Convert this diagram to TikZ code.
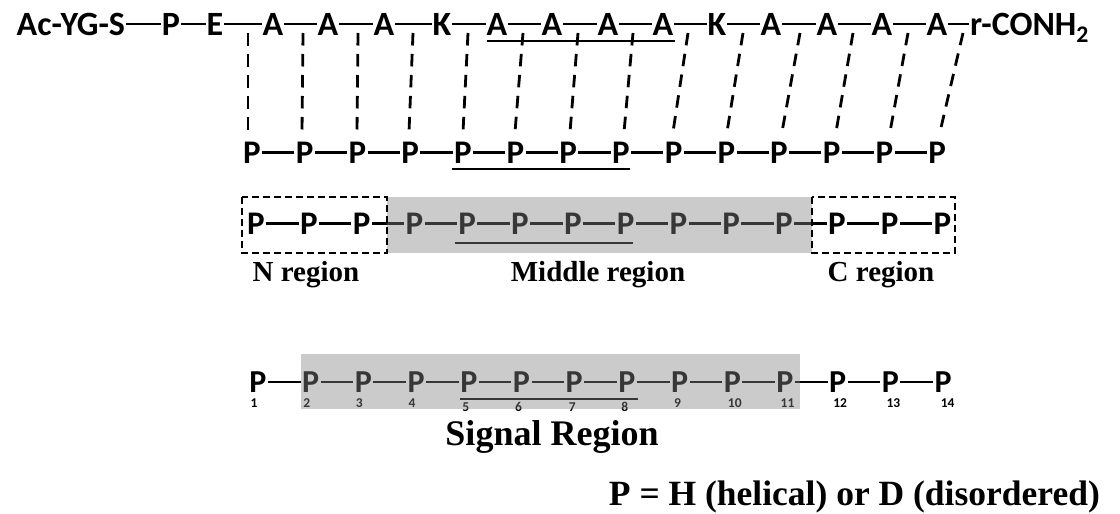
\documentclass[tikz,border=0pt]{standalone}
\usepackage{fontspec}
\setmainfont{Liberation Serif}
\newfontfamily\calfont{Carlito}
\tikzset{
  res/.style={font=\calfont\bfseries\fontsize{34}{34}\selectfont, inner sep=0pt, outer sep=0pt, text height=22pt, text depth=0pt, anchor=south},
  pp/.style={font=\calfont\bfseries\fontsize{33}{33}\selectfont, inner sep=0pt, outer sep=0pt, text height=21pt, text depth=0pt, anchor=south},
  ps/.style={font=\calfont\bfseries\fontsize{32}{32}\selectfont, inner sep=0pt, outer sep=0pt, text height=20pt, text depth=0pt, anchor=south},
  num/.style={font=\calfont\bfseries\fontsize{13.5}{13.5}\selectfont, inner sep=0pt, anchor=base},
  bond/.style={line width=2.7pt, shorten <=1pt, shorten >=1pt},
  pbond/.style={line width=2.7pt, shorten <=1.5pt, shorten >=1.5pt},
  link/.style={line width=2.8pt, dash pattern=on 12.5pt off 8.5pt},
  uline/.style={line width=2.8pt},
  regbox/.style={line width=2pt, dash pattern=on 7pt off 4pt},
  shade/.style={fill={rgb,255:red,132;green,132;blue,132}, fill opacity=0.42},
  lbl/.style={font=\bfseries\fontsize{29}{29}\selectfont, inner sep=0pt, anchor=base},
  biglbl/.style={font=\bfseries\fontsize{35.5}{35.5}\selectfont, inner sep=0pt, anchor=base},
}
\begin{document}
\begin{tikzpicture}[x=1pt,y=-1pt]
\useasboundingbox (0,0) rectangle (1120,514);
% ---- top sequence ----
\node[res, anchor=south east] (r0) at (125,35) {Ac-YG-S};
\foreach \n/\x/\t in {1/171/P, 2/215/E, 3/273/A, 4/328/A, 5/384/A, 6/442/K, 7/497/A, 8/552/A, 9/608/A, 10/663/A, 11/717/K, 12/771/A, 13/827/A, 14/882/A, 15/937/A}
  \node[res] (r\n) at (\x,35) {\t};
\node[res, anchor=south west] (r16) at (970,35) {r-CONH\textsubscript{2}};
\foreach \i [evaluate=\i as \j using int(\i+1)] in {0,...,15}
  \draw[bond] (r\i) -- (r\j);
\draw[uline] (487,41) -- (675,41);
% ---- P row ----
\foreach \i in {1,...,14}
  \node[pp] (q\i) at ({252+52.7*(\i-1)},163) {P};
\foreach \i [evaluate=\i as \j using int(\i+1)] in {1,...,13}
  \draw[pbond] (q\i) -- (q\j);
\draw[uline] (452,169) -- (630,169);
% ---- dashed links ----
\foreach \i/\xt/\xb in {1/248/248, 2/303/302, 3/358/357, 4/413/409, 5/468/463, 6/523/515, 7/578/570, 8/633/624, 9/688/673, 10/743/727, 11/800/782, 12/853/836, 13/908/890, 14/963/940} {
  \coordinate (t\i) at (\xt,33);
  \coordinate (b\i) at (\xb,132);
  \draw[link] (t\i) -- (b\i);
}
% ---- region row ----
\foreach \i in {1,...,14}
  \node[pp] (m\i) at ({256+52.8*(\i-1)},234) {P};
\foreach \i [evaluate=\i as \j using int(\i+1)] in {1,...,13}
  \draw[pbond] (m\i) -- (m\j);
\draw[uline] (455,243) -- (633,243);
\fill[shade] (387,197) rectangle (812,253);
\draw[regbox] (242,197) rectangle (387,253);
\draw[regbox] (812,197) rectangle (955,253);
\node[lbl] (nreg) at (306,281) {N region};
\node[lbl] (mreg) at (598,281) {Middle region};
\node[lbl] (creg) at (881,281) {C region};
% ---- signal row ----
\foreach \i in {1,...,14}
  \node[ps] (s\i) at ({258+52.7*(\i-1)},392) {P};
\foreach \i [evaluate=\i as \j using int(\i+1)] in {1,...,13}
  \draw[pbond] (s\i) -- (s\j);
\foreach \i/\dx/\dy in {1/-4/15, 2/-4/15, 3/-4/15, 4/-4/15, 5/-3/19, 6/-3/19, 7/-2/19, 8/-2/19, 9/-2/15, 10/2.5/15, 11/2.5/15, 12/2.5/15, 13/3/15, 14/4.5/15}
  \path (s\i.south) ++(\dx,\dy) node[num] (n\i) {\i};
\draw[uline] (460,399) -- (638,399);
\fill[shade] (301,354) rectangle (800,409);
\node[biglbl, font=\bfseries\fontsize{36}{36}\selectfont] (sig) at (552,445) {Signal Region};
\node[biglbl, anchor=base east] (legend) at (1100,505) {P = H (helical) or D (disordered)};
\end{tikzpicture}
\end{document}
